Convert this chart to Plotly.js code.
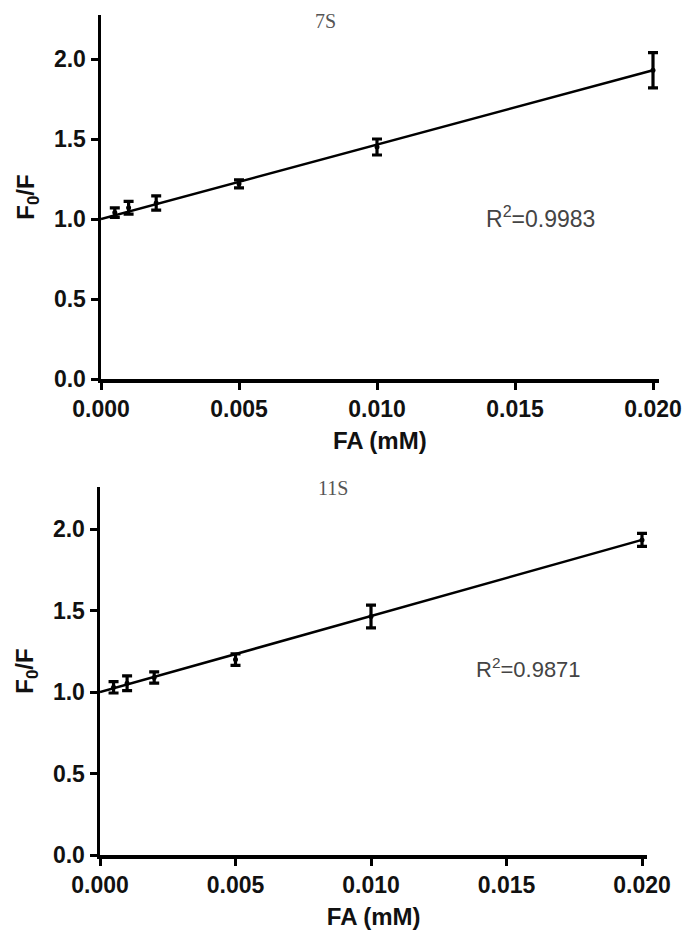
<!DOCTYPE html>
<html>
<head>
<meta charset="utf-8">
<script src="https://cdn.plot.ly/plotly-3.0.1.min.js"></script>
<style>html,body{margin:0;padding:0;background:#fff;}#chart{width:696px;height:944px;}</style>
</head>
<body>
<div id="chart"></div>
<script>
// ---- data ----
const faConc = [0.0005, 0.001, 0.002, 0.005, 0.010, 0.020];

const ratio7S = [1.04, 1.07, 1.10, 1.22, 1.45, 1.93];
const err7S   = [0.03, 0.04, 0.045, 0.025, 0.05, 0.11];

const ratio11S = [1.03, 1.055, 1.09, 1.20, 1.465, 1.935];
const err11S   = [0.035, 0.045, 0.035, 0.035, 0.07, 0.04];

const fitX = [0, 0.020];
const fit7S = [1.00, 1.93];
const fit11S = [1.00, 1.935];

const xTickVals = [0, 0.005, 0.010, 0.015, 0.020];
const xTickText = ["0.000", "0.005", "0.010", "0.015", "0.020"];
const yTickVals = [0, 0.5, 1.0, 1.5, 2.0];
const yTickText = ["0.0", "0.5", "1.0", "1.5", "2.0"];

const panelTitles = ["7S", "11S"];
const r2Labels = ["R<sup>2</sup>=0.9983", "R<sup>2</sup>=0.9871"];
const xTitle = "FA (mM)";
const yTitle = "F<sub>0</sub>/F";

// ---- styling ----
const W = 696, H = 944;
const XMAX = 0.0202; // small room so the last error-bar cap is not clipped
const BOLD = {family: "Liberation Sans, Arial, sans-serif", size: 23, color: "#111", weight: "bold"};
const TITLEF = {family: "Liberation Sans, Arial, sans-serif", size: 24, color: "#111", weight: "bold"};

function pts(x, y, e, xa, ya) {
  return {
    x: x, y: y, xaxis: xa, yaxis: ya, type: "scatter", mode: "markers",
    marker: {symbol: "circle", size: 5, color: "#000"},
    error_y: {type: "data", array: e, visible: true, color: "#000", thickness: 3.2, width: 5},
    cliponaxis: false, showlegend: false, hoverinfo: "x+y"
  };
}
function fit(x, y, xa, ya) {
  return {x: x, y: y, xaxis: xa, yaxis: ya, type: "scatter", mode: "lines",
    line: {color: "#000", width: 2.5}, cliponaxis: false, showlegend: false, hoverinfo: "skip"};
}

const traces = [
  fit(fitX, fit7S, "x", "y"),
  pts(faConc, ratio7S, err7S, "x", "y"),
  fit(fitX, fit11S, "x2", "y2"),
  pts(faConc, ratio11S, err11S, "x2", "y2")
];

function xax(left, right, anchor) {
  // right = pixel of 0.020
  const pxPerUnit = (right - left) / 0.020;
  const rightEdge = left + pxPerUnit * XMAX;
  return {
    domain: [left / W, rightEdge / W], anchor: anchor, range: [0, XMAX], autorange: false,
    tickmode: "array", tickvals: xTickVals, ticktext: xTickText,
    showline: true, linewidth: 3.5, linecolor: "#000",
    ticks: "outside", ticklen: 7, tickwidth: 3, tickcolor: "#000",
    showgrid: false, zeroline: false, tickfont: BOLD, automargin: false,
    title: {text: xTitle, font: TITLEF, standoff: 12}
  };
}
function yax(domain, anchor, top) {
  return {
    domain: domain, anchor: anchor, range: [0, top], autorange: false,
    tickmode: "array", tickvals: yTickVals, ticktext: yTickText,
    showline: true, linewidth: 3.5, linecolor: "#000",
    ticks: "outside", ticklen: 7, tickwidth: 3, tickcolor: "#000",
    showgrid: false, zeroline: false, tickfont: BOLD, automargin: false,
    title: {text: yTitle, font: TITLEF, standoff: 13}
  };
}

const layout = {
  width: W, height: H,
  margin: {l: 0, r: 0, t: 0, b: 0},
  paper_bgcolor: "#fff", plot_bgcolor: "#fff",
  showlegend: false,
  xaxis: xax(101, 653, "y"),
  yaxis: yax([1 - 379 / H, 1 - 15 / H], "x", 2.275),
  xaxis2: xax(100, 642, "y2"),
  yaxis2: yax([1 - 855 / H, 1 - 487 / H], "x2", 2.26),
  annotations: [
    {text: panelTitles[0], xref: "paper", yref: "paper", x: 325 / W, y: 1 - 21 / H,
     xanchor: "center", yanchor: "middle", showarrow: false,
     font: {family: "Liberation Serif, Times New Roman, serif", size: 20, color: "#555"}},
    {text: panelTitles[1], xref: "paper", yref: "paper", x: 333 / W, y: 1 - 488 / H,
     xanchor: "center", yanchor: "middle", showarrow: false,
     font: {family: "Liberation Serif, Times New Roman, serif", size: 20, color: "#555"}},
    {text: r2Labels[0], xref: "paper", yref: "paper", x: 540 / W, y: 1 - 217 / H,
     xanchor: "center", yanchor: "middle", showarrow: false,
     font: {family: "Liberation Sans, Arial, sans-serif", size: 23, color: "#444"}},
    {text: r2Labels[1], xref: "paper", yref: "paper", x: 528 / W, y: 1 - 668 / H,
     xanchor: "center", yanchor: "middle", showarrow: false,
     font: {family: "Liberation Sans, Arial, sans-serif", size: 22, color: "#444"}}
  ]
};

Plotly.newPlot("chart", traces, layout, {staticPlot: true, displayModeBar: false});
</script>
</body>
</html>
